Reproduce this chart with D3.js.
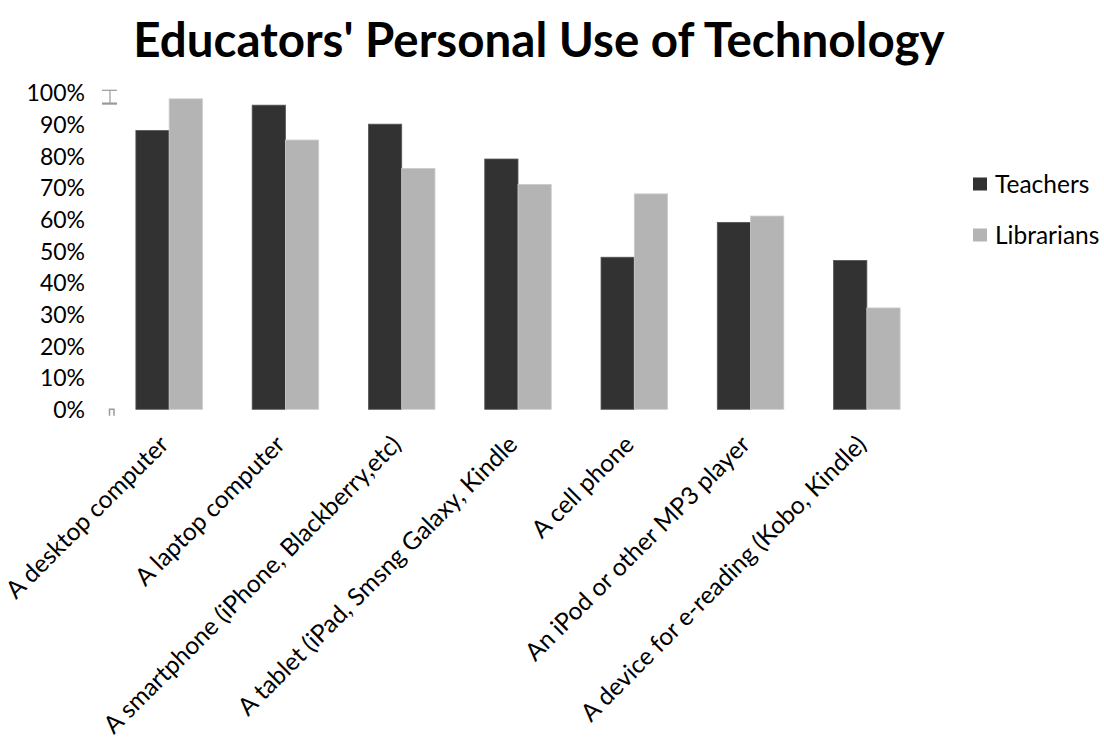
<!DOCTYPE html>
<html>
<head>
<meta charset="utf-8">
<script src="https://cdn.jsdelivr.net/npm/d3@7"></script>
<style>
  html, body { margin: 0; padding: 0; background: #ffffff; }
  svg { display: block; }
  text { font-family: Lato, "Open Sans", sans-serif; fill: #000; }
</style>
</head>
<body>
<svg id="chart" width="1104" height="741"></svg>
<script>
const title = "Educators' Personal Use of Technology";
const categories = [
  "A desktop computer",
  "A laptop computer",
  "A smartphone (iPhone, Blackberry,etc)",
  "A tablet (iPad, Smsng Galaxy, Kindle",
  "A cell phone",
  "An iPod or other MP3 player",
  "A device for e-reading (Kobo, Kindle)"
];
const seriesNames = ["Teachers", "Librarians"];
const teachers   = [0.88, 0.96, 0.90, 0.79, 0.48, 0.59, 0.47];
const librarians = [0.98, 0.85, 0.76, 0.71, 0.68, 0.61, 0.32];
const yTicks = [0, 0.1, 0.2, 0.3, 0.4, 0.5, 0.6, 0.7, 0.8, 0.9, 1.0];
const colors = ["#323232", "#b4b4b4"];
const strokes = ["#555555", "#cccccc"];

const svg = d3.select("#chart");

const x = d3.scaleBand().domain(categories).range([111, 925]).paddingInner(0.428).paddingOuter(0.214);
const xs = d3.scaleBand().domain(seriesNames).range([0, x.bandwidth()]);
const y = d3.scaleLinear().domain([0, 1]).range([409.3, 92.5]);

// title
svg.append("text")
  .attr("x", 539).attr("y", 57)
  .attr("text-anchor", "middle")
  .style("font-weight", "bold")
  .style("font-size", "47.5px")
  .text(title);

// y axis labels
const yAxis = d3.axisLeft(y).tickValues(yTicks).tickFormat(d3.format(".0%")).tickSize(0).tickPadding(0);
const yg = svg.append("g").attr("transform", "translate(85,0)").call(yAxis);
yg.select(".domain").remove();
yg.selectAll("text").style("font-size", "23px").style("font-family", "Lato, sans-serif").attr("fill", "#000").attr("dy", "0.36em");

// artifact marks near axis (as in reference)
const cx = x.range()[0] - 1;
const art = svg.append("g").attr("stroke", "#9a9a9a").attr("fill", "none");
art.append("line").attr("x1", cx - 8).attr("x2", cx + 7).attr("y1", y(1.007)).attr("y2", y(1.007)).attr("stroke-width", 1.2);
art.append("line").attr("x1", cx).attr("x2", cx).attr("y1", y(1.007)).attr("y2", y(0.965)).attr("stroke-width", 1.2);
art.append("line").attr("x1", cx - 8).attr("x2", cx + 7).attr("y1", y(0.965)).attr("y2", y(0.965)).attr("stroke-width", 2.2);
art.append("path").attr("d", `M${cx - 0.5},${y(-0.02)} V${y(0)} H${cx + 4} V${y(-0.02)}`).attr("stroke-width", 1.5);

// bars
const data = categories.map((c, i) => ({cat: c, vals: [teachers[i], librarians[i]]}));
const groups = svg.append("g").selectAll("g").data(data).join("g")
  .attr("transform", d => `translate(${x(d.cat)},0)`);
groups.selectAll("rect").data(d => d.vals.map((v, j) => ({name: seriesNames[j], v, j}))).join("rect")
  .attr("x", d => xs(d.name))
  .attr("width", xs.bandwidth())
  .attr("y", d => y(d.v))
  .attr("height", d => y(0) - y(d.v))
  .attr("fill", d => colors[d.j])
  .attr("stroke", d => strokes[d.j])
  .attr("stroke-width", 0.8);

// x labels
const xAxis = d3.axisBottom(x).tickSize(0).tickPadding(0);
const xg = svg.append("g").call(xAxis);
xg.select(".domain").remove();
xg.selectAll(".tick").attr("transform", d => `translate(${x(d) + x.bandwidth() / 2 + 1},446)`);
xg.selectAll("text")
  .attr("y", 0).attr("x", 0).attr("dy", 0)
  .attr("transform", "rotate(-45)")
  .attr("text-anchor", "end")
  .attr("fill", "#000")
  .style("font-size", "24.5px")
  .style("font-family", "Lato, sans-serif");

// legend
const leg = svg.append("g");
const legY = [177.5, 228.5];
seriesNames.forEach((n, i) => {
  leg.append("rect").attr("x", 973).attr("y", legY[i]).attr("width", 14).attr("height", 13).attr("fill", colors[i]);
  leg.append("text").attr("x", 995).attr("y", legY[i] + 15.5).style("font-size", "24.5px").text(n);
});
</script>
</body>
</html>
